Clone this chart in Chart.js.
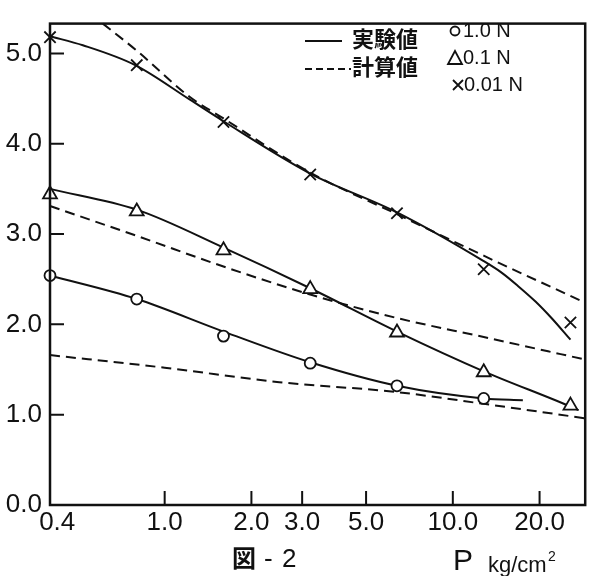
<!DOCTYPE html>
<html>
<head>
<meta charset="utf-8">
<script src="https://cdn.jsdelivr.net/npm/chart.js@4"></script>
<style>
  html, body { margin: 0; background: #fff; }
</style>
</head>
<body>
<canvas id="chart" width="595" height="576"></canvas>
<script>
// pressure P (kg/cm2) where the experiments were measured
const pressures = [0.4, 0.8, 1.6, 3.2, 6.4, 12.8, 25.6];

// measured points (markers)
const meas10N = [2.54, 2.28, 1.87, 1.57, 1.32, 1.18];
const meas01N = [3.44, 3.25, 2.82, 2.39, 1.91, 1.47, 1.10];
const meas001N = [5.18, 4.87, 4.24, 3.66, 3.23, 2.61, 2.02];

const exp10N_x = [0.4, 0.8, 1.6, 3.2, 6.4, 12.8, 17.5];
const exp10N_y = [2.54, 2.28, 1.92, 1.58, 1.32, 1.18, 1.16];
const exp01N_x = [0.4, 0.8, 1.6, 3.2, 6.4, 12.8, 25.6, 27.3];
const exp01N_y = [3.50, 3.27, 2.85, 2.40, 1.92, 1.48, 1.09, 1.05];
const exp001N_x = [0.4, 0.52, 0.79, 1.22, 1.58, 3.2, 6.4, 12.8, 14.8, 16.9, 19.4, 22, 25.6];
const exp001N_y = [5.19, 5.09, 4.87, 4.49, 4.26, 3.67, 3.24, 2.70, 2.57, 2.42, 2.25, 2.07, 1.83];

// calculated curves (dashed)
const calc10N_x = [0.4, 1.0, 2.5, 6.4, 12.8, 28.8];
const calc10N_y = [1.66, 1.52, 1.36, 1.25, 1.12, 0.96];
const calc01N_x = [0.4, 0.8, 1.6, 3.2, 6.4, 12.8, 28.8];
const calc01N_y = [3.31, 2.98, 2.64, 2.33, 2.07, 1.86, 1.61];
const calc001N_x = [0.61, 0.8, 1.22, 1.6, 3.2, 6.4, 12.8, 28.8];
const calc001N_y = [5.33, 5.03, 4.52, 4.28, 3.68, 3.22, 2.76, 2.24];

const xTicks = [0.4, 1, 2, 3, 5, 10, 20];
const yTicks = [0, 1, 2, 3, 4, 5];

const ink = '#111';
const tickFont = '"Liberation Sans", Arial, sans-serif';
const pts = (xs, ys) => ys.map((v, i) => ({ x: xs[i], y: v }));

function markers(ys, style, r) {
  return {
    data: pts(pressures, ys),
    showLine: false,
    pointStyle: style,
    pointRadius: r,
    pointBackgroundColor: '#fff',
    pointBorderColor: ink,
    pointBorderWidth: 1.8
  };
}

function curve(xs, ys, dashed) {
  return {
    data: pts(xs, ys),
    showLine: true,
    pointRadius: 0,
    borderColor: ink,
    borderWidth: 2,
    borderDash: dashed ? [10, 6] : [],
    cubicInterpolationMode: 'monotone'
  };
}

const framePlugin = {
  id: 'frame',
  afterDraw(chart) {
    const { ctx, chartArea: a, scales: { x, y } } = chart;
    ctx.save();
    ctx.strokeStyle = ink;
    ctx.fillStyle = ink;
    ctx.lineWidth = 2.5;
    ctx.strokeRect(a.left, a.top, a.right - a.left, a.bottom - a.top);

    // ticks point into the plot
    ctx.lineWidth = 2;
    ctx.beginPath();
    x.ticks.forEach(t => {
      if (t.value <= x.min) return;
      const px = x.getPixelForValue(t.value);
      ctx.moveTo(px, a.bottom);
      ctx.lineTo(px, a.bottom - 14);
    });
    y.ticks.forEach(t => {
      if (t.value <= y.min) return;
      const py = y.getPixelForValue(t.value);
      ctx.moveTo(a.left, py);
      ctx.lineTo(a.left + 14, py);
    });
    ctx.stroke();

    // legend: line styles
    ctx.beginPath();
    ctx.moveTo(305, 41); ctx.lineTo(342, 41);
    ctx.stroke();
    ctx.setLineDash([7, 4]);
    ctx.beginPath();
    ctx.moveTo(305, 69); ctx.lineTo(351, 69);
    ctx.stroke();
    ctx.setLineDash([]);

    ctx.textBaseline = 'middle';
    ctx.textAlign = 'left';
    ctx.font = 'bold 22px "Noto Sans CJK JP"';
    ctx.fillText('実験値', 352, 39);
    ctx.fillText('計算値', 352, 67);

    // legend: marker symbols
    ctx.lineWidth = 1.8;
    ctx.beginPath();
    ctx.arc(455, 31, 4.5, 0, Math.PI * 2);
    ctx.stroke();
    ctx.beginPath();
    ctx.moveTo(455, 51); ctx.lineTo(462, 64); ctx.lineTo(448, 64); ctx.closePath();
    ctx.stroke();
    ctx.beginPath();
    ctx.moveTo(453, 80); ctx.lineTo(463, 90);
    ctx.moveTo(463, 80); ctx.lineTo(453, 90);
    ctx.stroke();

    ctx.font = '20px ' + tickFont;
    ctx.fillText('1.0 N', 463, 31);
    ctx.fillText('0.1 N', 463, 58);
    ctx.fillText('0.01 N', 464, 85);

    // captions
    ctx.textBaseline = 'alphabetic';
    ctx.font = 'bold 24px "Noto Sans CJK JP"';
    ctx.fillText('図', 232, 567);
    ctx.font = '26px ' + tickFont;
    ctx.fillText('-', 264, 567);
    ctx.fillText('2', 282, 567);
    ctx.font = '30px ' + tickFont;
    ctx.fillText('P', 453, 570);
    ctx.font = '22px ' + tickFont;
    ctx.fillText('kg/cm', 488, 572);
    ctx.font = '14px ' + tickFont;
    ctx.fillText('2', 548, 561);
    ctx.restore();
  }
};

new Chart(document.getElementById('chart'), {
  type: 'scatter',
  data: {
    datasets: [
      markers(meas10N, 'circle', 5.5),
      markers(meas01N, 'triangle', 8),
      markers(meas001N, 'crossRot', 8),
      curve(exp10N_x, exp10N_y, false),
      curve(exp01N_x, exp01N_y, false),
      curve(exp001N_x, exp001N_y, false),
      curve(calc10N_x, calc10N_y, true),
      curve(calc01N_x, calc01N_y, true),
      curve(calc001N_x, calc001N_y, true)
    ]
  },
  options: {
    responsive: false,
    animation: false,
    clip: false,
    layout: { padding: { left: 0, top: 10, right: 8, bottom: 0 } },
    plugins: { legend: { display: false }, tooltip: { enabled: false } },
    scales: {
      x: {
        type: 'logarithmic',
        min: 0.4,
        max: 28.8,
        afterBuildTicks: s => { s.ticks = xTicks.map(v => ({ value: v })); },
        afterFit: s => { s.height = 71; },
        grid: { display: false, drawTicks: false },
        border: { display: false },
        ticks: {
          color: ink,
          padding: 2,
          maxRotation: 0,
          autoSkip: false,
          font: { family: tickFont, size: 26 },
          // the first label sits a little to the right of the axis
          callback: (v, i) => (i === 0 ? '  ' : '') + Number(v).toFixed(1)
        }
      },
      y: {
        min: 0,
        max: 5.33,
        afterBuildTicks: s => { s.ticks = yTicks.map(v => ({ value: v })); },
        afterFit: s => { s.width = 50; },
        grid: { display: false, drawTicks: false },
        border: { display: false },
        ticks: {
          color: ink,
          padding: 8,
          font: { family: tickFont, size: 26 },
          callback: v => Number(v).toFixed(1)
        }
      }
    }
  },
  plugins: [framePlugin]
});
</script>
</body>
</html>
